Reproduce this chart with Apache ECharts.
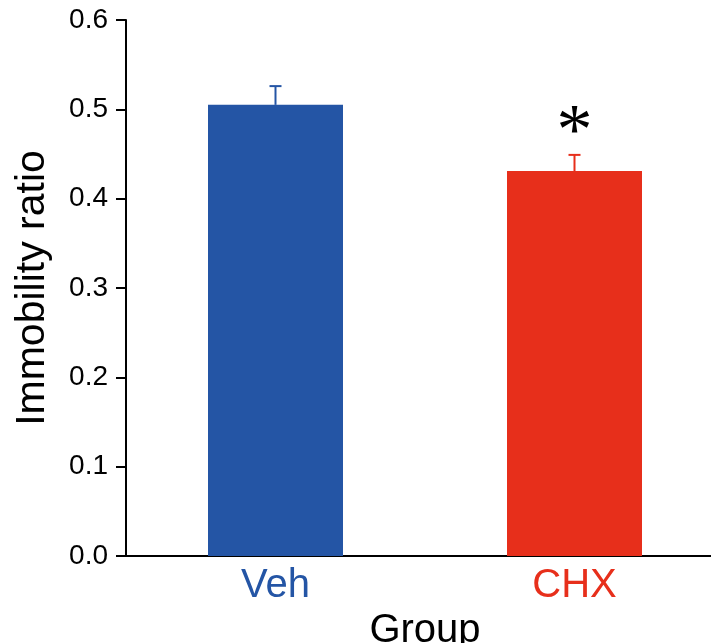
<!DOCTYPE html>
<html>
<head>
<meta charset="utf-8">
<script src="https://cdn.jsdelivr.net/npm/echarts@6/dist/echarts.min.js"></script>
<style>
html,body{margin:0;padding:0;background:#fff;overflow:hidden;}
#chart{width:711px;height:643px;}
</style>
</head>
<body>
<div id="chart"></div>
<script>
var categories = ['Veh', 'CHX'];
var means = [0.505, 0.431];
var errors = [0.021, 0.018];
var significance = ['', '*'];
var colors = ['#2455a5', '#e72f1b'];
var yTicks = [0, 0.1, 0.2, 0.3, 0.4, 0.5, 0.6];

var chart = echarts.init(document.getElementById('chart'));
var font = 'Liberation Sans, Arial, sans-serif';

var errData = categories.map(function (c, i) { return [i, means[i], errors[i]]; });

var option = {
  animation: false,
  grid: { left: 126, top: 20, bottom: 87, right: -13, containLabel: false, outerBoundsMode: 'none' },
  xAxis: {
    type: 'category',
    data: categories,
    name: 'Group',
    nameLocation: 'middle',
    nameGap: 48,
    nameTextStyle: { fontSize: 40, color: '#000', fontFamily: font },
    axisLine: { show: true, lineStyle: { color: '#000', width: 2 } },
    axisTick: { show: false },
    axisLabel: {
      fontSize: 40,
      fontFamily: font,
      margin: 10,
      color: function (v, i) { return colors[categories.indexOf(v)]; }
    },
    splitLine: { show: false }
  },
  yAxis: {
    type: 'value',
    min: yTicks[0],
    max: yTicks[yTicks.length - 1],
    interval: 0.1,
    name: 'Immobility ratio',
    nameLocation: 'middle',
    nameGap: 73,
    nameRotate: 90,
    nameTextStyle: { fontSize: 41, color: '#000', fontFamily: font },
    axisLine: { show: true, lineStyle: { color: '#000', width: 2 } },
    axisTick: { show: true, inside: false, length: 10, lineStyle: { color: '#000', width: 2 } },
    axisLabel: {
      fontSize: 28,
      fontFamily: font,
      color: '#000',
      margin: 18,
      formatter: function (v) { return v.toFixed(1); }
    },
    splitLine: { show: false }
  },
  series: [
    {
      type: 'bar',
      data: means.map(function (v, i) { return { value: v, itemStyle: { color: colors[i] } }; }),
      barWidth: 135,
      z: 2
    },
    {
      type: 'custom',
      data: errData,
      z: 3,
      renderItem: function (params, api) {
        var i = api.value(0);
        var m = api.value(1);
        var e = api.value(2);
        var base = api.coord([i, m]);
        var top = api.coord([i, m + e]);
        var half = 6;
        var col = colors[params.dataIndex];
        var children = [
          { type: 'line', shape: { x1: base[0], y1: base[1], x2: top[0], y2: top[1] }, style: { stroke: col, lineWidth: 2 } },
          { type: 'line', shape: { x1: top[0] - half, y1: top[1], x2: top[0] + half, y2: top[1] }, style: { stroke: col, lineWidth: 2 } }
        ];
        var s = significance[params.dataIndex];
        if (s) {
          children.push({
            type: 'text',
            style: {
              text: s,
              x: top[0],
              y: top[1] - 21,
              align: 'center',
              verticalAlign: 'middle',
              fontSize: 72,
              fontFamily: 'Liberation Serif, Times New Roman, serif',
              fill: '#000'
            }
          });
        }
        return { type: 'group', children: children };
      }
    }
  ]
};
chart.setOption(option);
</script>
</body>
</html>
